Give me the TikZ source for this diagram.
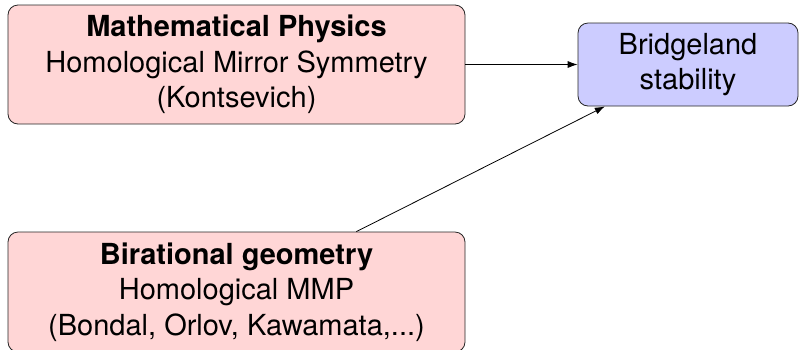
\documentclass[tikz,border=0pt]{standalone}
\usepackage{fontspec}
\setmainfont{TeX Gyre Heros}
\usetikzlibrary{arrows.meta}
\definecolor{pinkfill}{RGB}{255,214,214}
\definecolor{bluefill}{RGB}{204,204,255}
\begin{document}
\begin{tikzpicture}[x=1pt,y=-1pt,
  box/.style={draw=black!85, line width=0.8pt, rounded corners=10pt, align=center,
    font=\fontsize{29}{35.5}\selectfont, inner sep=0pt},
  redbox/.style={box, fill=pinkfill, minimum width=457pt, minimum height=119pt},
  bluebox/.style={box, fill=bluefill, minimum width=220pt, minimum height=83pt},
  conn/.style={line width=0.8pt, -{Latex[length=10pt,width=7pt]}}]
\useasboundingbox (0,0) rectangle (799,349);
\node[redbox] (phys) at (236.5,64.5) {\textbf{Mathematical Physics}\\Homological Mirror Symmetry\\(Kontsevich)};
\node[bluebox] (bridge) at (688,64.5) {Bridgeland\\stability};
\node[redbox, minimum height=120pt] (biral) at (236.5,292) {\textbf{Birational geometry}\\Homological MMP\\(Bondal, Orlov, Kawamata,...)};
\draw[conn] (phys) -- (bridge);
\draw[conn] (biral) -- (bridge);
\end{tikzpicture}
\end{document}
